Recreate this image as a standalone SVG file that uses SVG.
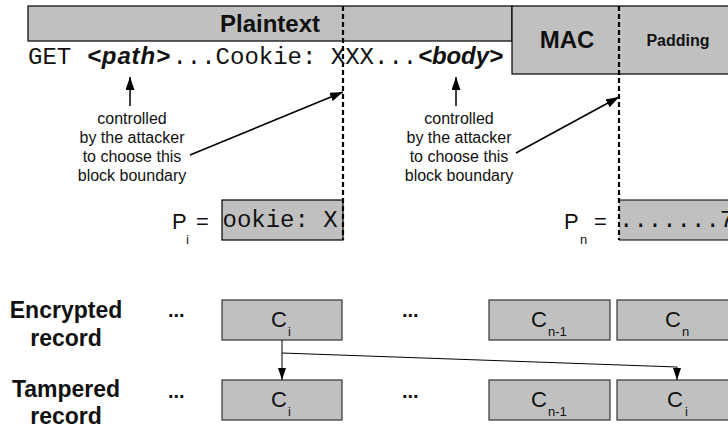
<svg xmlns="http://www.w3.org/2000/svg" width="728" height="428" viewBox="0 0 728 428">
<style>
  .box { fill: #c0c0c0; stroke: #000; stroke-width: 1.2; }
  .cbox { fill: #c0c0c0; stroke: #333; stroke-width: 1.2; }
  .mono { font-family: "Liberation Mono", "DejaVu Sans Mono", monospace; font-size: 24px; fill: #111; }
  .bi { font-family: "Liberation Sans", Arial, sans-serif; font-size: 24px; font-weight: bold; font-style: italic; fill: #111; }
  .hdr { font-family: "Liberation Sans", Arial, sans-serif; font-weight: bold; fill: #111; text-anchor: middle; }
  .note { font-family: "Liberation Sans", Arial, sans-serif; font-size: 16px; fill: #111; text-anchor: middle; }
  .lbl { font-family: "Liberation Sans", Arial, sans-serif; font-size: 23px; font-weight: bold; fill: #111; text-anchor: middle; }
  .dots { font-family: "Liberation Sans", Arial, sans-serif; font-size: 20px; font-weight: bold; fill: #111; }
  .big { font-family: "Liberation Sans", Arial, sans-serif; font-size: 22px; fill: #111; }
  .sub { font-family: "Liberation Sans", Arial, sans-serif; font-size: 13px; fill: #111; }
  .dash { stroke: #000; stroke-width: 2.2; stroke-dasharray: 5 3; fill: none; }
  .arr { stroke: #000; stroke-width: 1.5; fill: none; }
  .thin { stroke: #000; stroke-width: 1; fill: none; }
</style>
<defs>
  <marker id="ah" markerUnits="userSpaceOnUse" markerWidth="13" markerHeight="9" refX="13" refY="4.5" orient="auto">
    <path d="M0,0 L13,4.5 L0,9 z" fill="#000"/>
  </marker>
  <marker id="ahs" markerUnits="userSpaceOnUse" markerWidth="12" markerHeight="8" refX="12" refY="4" orient="auto">
    <path d="M0,0 L12,4 L0,8 z" fill="#000"/>
  </marker>
</defs>

<g id="plaintext">
  <rect class="box" x="28" y="6" width="484" height="35"/>
  <text class="hdr" x="270" y="32" font-size="24">Plaintext</text>
</g>
<g id="mac-padding">
  <rect class="box" x="512" y="6" width="230" height="68"/>
  <text class="hdr" x="567" y="48" font-size="24">MAC</text>
  <text class="hdr" x="678" y="46" font-size="16">Padding</text>
</g>
<g id="request-line">
  <text class="mono" x="28" y="64">GET</text>
  <text class="bi" x="87" y="64" textLength="83" lengthAdjust="spacing">&lt;path&gt;</text>
  <text class="mono" x="172.4" y="64">...Cookie: XXX...</text>
  <text class="bi" x="418" y="64" textLength="85" lengthAdjust="spacing">&lt;body&gt;</text>
</g>
<g id="note-1">
  <text class="note" x="132" y="124">controlled</text>
  <text class="note" x="132" y="143">by the attacker</text>
  <text class="note" x="132" y="162">to choose this</text>
  <text class="note" x="132" y="181">block boundary</text>
</g>
<g id="note-2">
  <text class="note" x="459" y="124">controlled</text>
  <text class="note" x="459" y="143">by the attacker</text>
  <text class="note" x="459" y="162">to choose this</text>
  <text class="note" x="459" y="181">block boundary</text>
</g>
<g id="p-i">
  <text class="big" x="172" y="229">P</text>
  <text class="sub" x="186" y="244">i</text>
  <text class="big" x="196" y="229">=</text>
  <rect class="box" x="222" y="200" width="121" height="40"/>
  <text class="mono" x="222.5" y="227">ookie: X</text>
</g>
<g id="p-n">
  <text class="big" x="564" y="229">P</text>
  <text class="sub" x="580" y="244">n</text>
  <text class="big" x="594" y="229">=</text>
  <rect x="619" y="200" width="120" height="40" fill="#c0c0c0"/>
  <path d="M619,200 H740 M619,240 H740" stroke="#000" stroke-width="1.2" fill="none"/>
  <text class="mono" x="619" y="227">.......7</text>
</g>
<g id="boundaries">
  <line class="dash" x1="343" y1="6" x2="343" y2="240"/>
  <line class="dash" x1="619" y1="6" x2="619" y2="240"/>
</g>

<g id="encrypted-label">
  <text class="lbl" x="66" y="318">Encrypted</text>
  <text class="lbl" x="66" y="346">record</text>
  <text class="dots" x="168" y="317">...</text>
  <text class="dots" x="402" y="317">...</text>
</g>
<g id="tampered-label">
  <text class="lbl" x="66" y="397">Tampered</text>
  <text class="lbl" x="66" y="424">record</text>
  <text class="dots" x="168" y="398">...</text>
  <text class="dots" x="402" y="398">...</text>
</g>
<g id="enc-ci">
  <rect class="cbox" x="222" y="300" width="120" height="40"/>
  <text class="big" x="271" y="327">C</text><text class="sub" x="288" y="336">i</text>
</g>
<g id="enc-cn1">
  <rect class="cbox" x="489" y="300" width="121" height="40"/>
  <text class="big" x="531" y="327">C</text><text class="sub" x="548" y="336">n-1</text>
</g>
<g id="enc-cn">
  <rect class="cbox" x="617" y="300" width="121" height="40"/>
  <text class="big" x="665" y="327">C</text><text class="sub" x="682" y="336">n</text>
</g>
<g id="tam-ci">
  <rect class="cbox" x="222" y="380" width="120" height="40"/>
  <text class="big" x="271" y="407">C</text><text class="sub" x="288" y="416">i</text>
</g>
<g id="tam-cn1">
  <rect class="cbox" x="489" y="380" width="121" height="40"/>
  <text class="big" x="531" y="407">C</text><text class="sub" x="548" y="416">n-1</text>
</g>
<g id="tam-ci-last">
  <rect class="cbox" x="617" y="380" width="121" height="40"/>
  <text class="big" x="667" y="407">C</text><text class="sub" x="685" y="416">i</text>
</g>

<g id="connectors">
  <line class="arr" x1="130" y1="106" x2="130" y2="77" marker-end="url(#ah)"/>
  <line class="arr" x1="190" y1="155" x2="343" y2="92" marker-end="url(#ah)"/>
  <line class="arr" x1="456" y1="106" x2="456" y2="77" marker-end="url(#ah)"/>
  <line class="arr" x1="516" y1="153" x2="619" y2="97" marker-end="url(#ah)"/>
  <line class="thin" x1="282" y1="340" x2="282" y2="380" marker-end="url(#ahs)"/>
  <polyline class="thin" points="282,353 677,367 677,380" marker-end="url(#ahs)"/>
</g>
</svg>
